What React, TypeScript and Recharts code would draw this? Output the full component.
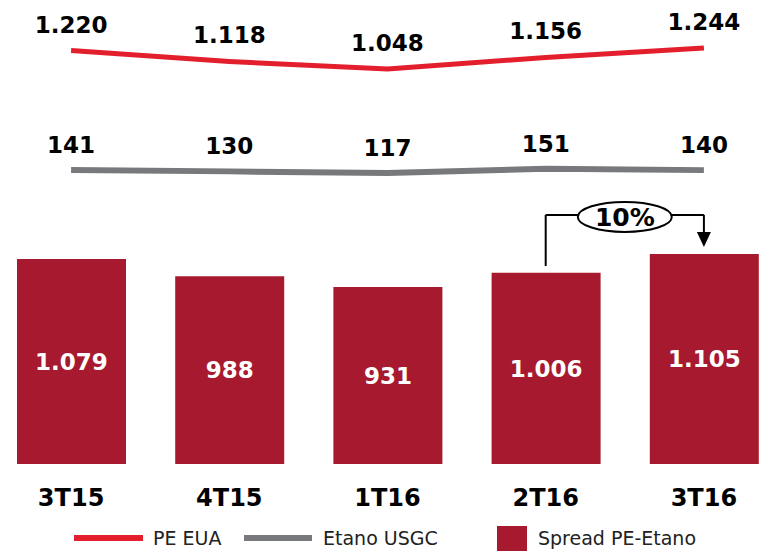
import React from 'react';
import {
  ComposedChart,
  Bar,
  Line,
  XAxis,
  YAxis,
  LabelList,
  Legend,
  ReferenceLine,
  ReferenceDot,
} from 'recharts';

const quarters = ['3T15', '4T15', '1T16', '2T16', '3T16'];
const peEua = [1220, 1118, 1048, 1156, 1244];
const etanoUsgc = [141, 130, 117, 151, 140];
const spreadPeEtano = [1079, 988, 931, 1006, 1105];

// variação 2T16 -> 3T16 (desenhada na escala das barras)
const growthText = '10%';
const bracketFrom = '2T16';
const bracketTo = '3T16';
const bracketStart = 1042;
const bracketTop = 1311;
const arrowTip = 1142;

const RED = '#E31F2D';
const GRAY = '#77797C';
const WINE = '#A6192E';
const FONT = '"DejaVu Sans", Verdana, sans-serif';

const data = quarters.map((q, i) => ({
  q,
  pe: peEua[i],
  etano: etanoUsgc[i],
  spread: spreadPeEtano[i],
}));

// formato pt-BR: 1.220
const fmt = (v: any) => {
  const n = Number(v);
  if (n < 1000) return String(n);
  return `${Math.floor(n / 1000)}.${String(n % 1000).padStart(3, '0')}`;
};

const PctLabel = (props: any) => {
  const vb = props.viewBox || {};
  const cx = vb.x + (vb.width || 0) / 2;
  const cy = vb.y + (vb.height || 0) / 2;
  return (
    <g>
      <ellipse cx={cx} cy={cy + 2} rx={47} ry={15} fill="#fff" stroke="#000" strokeWidth={2} />
      <text x={cx} y={cy + 11} textAnchor="middle" fontSize={25} fontWeight="bold" fill="#000">
        {growthText}
      </text>
    </g>
  );
};

const ArrowHead = (props: any) => {
  const { cx, cy } = props;
  return <path d={`M${cx - 7},${cy - 15} L${cx + 7},${cy - 15} L${cx},${cy} Z`} fill="#000" />;
};

const renderLegend = () => {
  const text: React.CSSProperties = {
    position: 'absolute',
    top: 7,
    fontSize: 19,
    color: '#222',
    lineHeight: '24px',
    whiteSpace: 'nowrap',
  };
  return (
    <div style={{ position: 'relative', height: 32, fontFamily: FONT }}>
      <div style={{ position: 'absolute', left: 82, top: 16, width: 69, height: 6, background: RED }} />
      <span style={{ ...text, left: 161 }}>PE EUA</span>
      <div style={{ position: 'absolute', left: 252, top: 16, width: 68, height: 6, background: GRAY }} />
      <span style={{ ...text, left: 331 }}>Etano USGC</span>
      <div style={{ position: 'absolute', left: 505, top: 7, width: 30, height: 28, background: WINE }} />
      <span style={{ ...text, left: 546 }}>Spread PE-Etano</span>
    </div>
  );
};

export default function App() {
  return (
    <div
      style={{
        position: 'fixed',
        left: 0,
        top: 0,
        width: 763,
        height: 551,
        overflow: 'hidden',
        background: '#fff',
        fontFamily: FONT,
      }}
    >
      <div style={{ position: 'absolute', left: -8, top: 0 }}>
        <ComposedChart width={791} height={551} data={data} margin={{ top: 8, right: 0, left: 0, bottom: 0 }}>
          <XAxis
            dataKey="q"
            axisLine={false}
            tickLine={false}
            tickSize={0}
            tickMargin={25}
            height={55}
            interval={0}
            tick={{ fontSize: 24, fontWeight: 'bold', fill: '#000' }}
          />
          <YAxis yAxisId="bar" domain={[0, 2400]} allowDataOverflow hide />
          <YAxis yAxisId="pe" domain={[-2644, 1618]} allowDataOverflow hide />
          <YAxis yAxisId="etano" domain={[-2211, 1437]} allowDataOverflow hide />
          <Legend verticalAlign="bottom" content={renderLegend} />
          <Bar yAxisId="bar" dataKey="spread" name="Spread PE-Etano" fill={WINE} barSize={109} isAnimationActive={false}>
            <LabelList dataKey="spread" position="center" fill="#fff" fontSize={23} fontWeight="bold" formatter={fmt} />
          </Bar>
          <Line
            yAxisId="pe"
            type="linear"
            dataKey="pe"
            name="PE EUA"
            stroke={RED}
            strokeWidth={5}
            dot={false}
            activeDot={false}
            isAnimationActive={false}
          >
            <LabelList dataKey="pe" position="top" offset={18} fill="#000" fontSize={23} fontWeight="bold" formatter={fmt} />
          </Line>
          <Line
            yAxisId="etano"
            type="linear"
            dataKey="etano"
            name="Etano USGC"
            stroke={GRAY}
            strokeWidth={6}
            dot={false}
            activeDot={false}
            isAnimationActive={false}
          >
            <LabelList dataKey="etano" position="top" offset={17} fill="#000" fontSize={23} fontWeight="bold" formatter={fmt} />
          </Line>
          <ReferenceLine
            yAxisId="bar"
            segment={[{ x: bracketFrom, y: bracketStart }, { x: bracketFrom, y: bracketTop }]}
            stroke="#000"
            strokeWidth={2}
            ifOverflow="visible"
          />
          <ReferenceLine
            yAxisId="bar"
            segment={[{ x: bracketTo, y: bracketTop }, { x: bracketTo, y: arrowTip + 20 }]}
            stroke="#000"
            strokeWidth={2}
            ifOverflow="visible"
          />
          <ReferenceLine
            yAxisId="bar"
            segment={[{ x: bracketFrom, y: bracketTop }, { x: bracketTo, y: bracketTop }]}
            stroke="#000"
            strokeWidth={2}
            ifOverflow="visible"
            label={<PctLabel />}
          />
          <ReferenceDot yAxisId="bar" x={bracketTo} y={arrowTip} ifOverflow="visible" shape={<ArrowHead />} />
        </ComposedChart>
      </div>
    </div>
  );
}
